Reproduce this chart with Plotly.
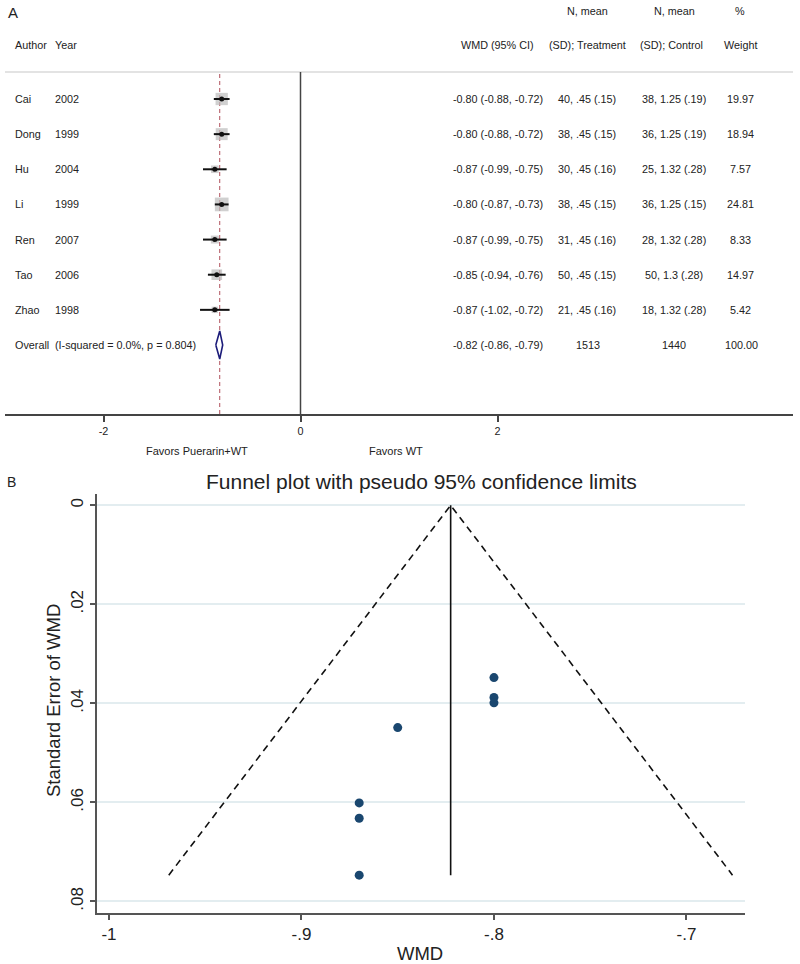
import plotly.graph_objects as go

# ---------------- data ----------------
authors = ["Cai", "Dong", "Hu", "Li", "Ren", "Tao", "Zhao"]
years = ["2002", "1999", "2004", "1999", "2007", "2006", "1998"]
wmd = [-0.80, -0.80, -0.87, -0.80, -0.87, -0.85, -0.87]
ci_low = [-0.88, -0.88, -0.99, -0.87, -0.99, -0.94, -1.02]
ci_high = [-0.72, -0.72, -0.75, -0.73, -0.75, -0.76, -0.72]
n_treat = [40, 38, 30, 38, 31, 50, 21]
mean_treat = [0.45, 0.45, 0.45, 0.45, 0.45, 0.45, 0.45]
sd_treat = [0.15, 0.15, 0.16, 0.15, 0.16, 0.15, 0.16]
n_ctrl = [38, 36, 25, 36, 28, 50, 18]
mean_ctrl = [1.25, 1.25, 1.32, 1.25, 1.32, 1.3, 1.32]
sd_ctrl = [0.19, 0.19, 0.28, 0.15, 0.28, 0.28, 0.28]
weights = [19.97, 18.94, 7.57, 24.81, 8.33, 14.97, 5.42]

overall_wmd = -0.82
overall_low = -0.86
overall_high = -0.79
overall_n_treat = 1513
overall_n_ctrl = 1440
overall_weight = 100.00
i_squared = 0.0
p_het = 0.804

forest_ticks = [-2, 0, 2]

# funnel plot
funnel_wmd = [-0.80, -0.80, -0.87, -0.80, -0.87, -0.85, -0.87]
funnel_se = [0.0388, 0.0399, 0.0632, 0.0348, 0.0601, 0.0449, 0.0747]
pooled = -0.8225
funnel_xticks = [-1, -0.9, -0.8, -0.7]
funnel_xticktext = ["-1", "-.9", "-.8", "-.7"]
funnel_yticks = [0, 0.02, 0.04, 0.06, 0.08]
funnel_yticktext = ["0", ".02", ".04", ".06", ".08"]

# ---------------- helpers ----------------
W, H = 800, 964
FONT = "Arial, Liberation Sans, sans-serif"
TXT = "#222222"
FS = 10.8


def px(xp):
    return xp / W


def py(yp):
    return 1 - yp / H


def sfmt(v):
    s = "%g" % v
    if s.startswith("0."):
        s = s[1:]
    return s


rows = list(range(1, len(authors) + 1))
overall_row = len(authors) + 1

fig = go.Figure()

# ---------------- forest plot ----------------
cx, cy = [], []
for lo, hi, r in zip(ci_low, ci_high, rows):
    cx += [lo, hi, None]
    cy += [r, r, None]

sizes = [2.75 * (w ** 0.5) for w in weights]
fig.add_trace(go.Scatter(x=wmd, y=rows, mode="markers", xaxis="x", yaxis="y",
                         marker=dict(symbol="square", size=sizes, color="#bcbcbc",
                                     line=dict(width=0)),
                         showlegend=False, hoverinfo="skip"))
fig.add_trace(go.Scatter(x=cx, y=cy, mode="lines", xaxis="x", yaxis="y",
                         line=dict(color="#111111", width=2),
                         showlegend=False, hoverinfo="skip"))
fig.add_trace(go.Scatter(x=wmd, y=rows, mode="markers", xaxis="x", yaxis="y",
                         marker=dict(symbol="circle", size=5, color="#111111"),
                         showlegend=False, hoverinfo="skip"))
hh = 0.4
fig.add_trace(go.Scatter(
    x=[overall_low, overall_wmd, overall_high, overall_wmd, overall_low],
    y=[overall_row, overall_row - hh, overall_row, overall_row + hh, overall_row],
    mode="lines", fill="toself", fillcolor="white", xaxis="x", yaxis="y",
    line=dict(color="#1c1c7a", width=1.6),
    showlegend=False, hoverinfo="skip"))

shapes = []
shapes.append(dict(type="line", xref="paper", yref="paper", x0=px(5), x1=px(793),
                   y0=py(72), y1=py(72), line=dict(color="#c8c8c8", width=1.2)))
shapes.append(dict(type="line", xref="x", yref="y domain", x0=0, x1=0, y0=0, y1=1,
                   line=dict(color="#444444", width=1.5)))
shapes.append(dict(type="line", xref="x", yref="y domain", x0=overall_wmd, x1=overall_wmd,
                   y0=0, y1=1, line=dict(color="#b0505c", width=1, dash="4px,3px"),
                   layer="below"))

ann = []


def add_text(text, x, y, xref="paper", yref="paper", xanchor="center", size=FS,
             color=TXT, **kw):
    ann.append(dict(text=text, x=x, y=y, xref=xref, yref=yref, xanchor=xanchor,
                    yanchor="middle", showarrow=False,
                    font=dict(family=FONT, size=size, color=color), **kw))


add_text("A", px(6), py(13), xanchor="left", size=15)
add_text("B", px(5), py(482), xanchor="left", size=14)

add_text("Author", px(13), py(45), xanchor="left")
add_text("Year", px(53), py(45), xanchor="left")
add_text("N, mean", px(587), py(11))
add_text("N, mean", px(674), py(11))
add_text("%", px(740), py(11))
add_text("WMD (95% CI)", px(497), py(45))
add_text("(SD); Treatment", px(587), py(45))
add_text("(SD); Control", px(671), py(45))
add_text("Weight", px(740), py(45))

for i, r in enumerate(rows):
    add_text(authors[i], px(13), r, yref="y", xanchor="left")
    add_text(years[i], px(53), r, yref="y", xanchor="left")
    add_text("%.2f (%.2f, %.2f)" % (wmd[i], ci_low[i], ci_high[i]), px(498), r, yref="y")
    add_text("%d, %s (%s)" % (n_treat[i], sfmt(mean_treat[i]), sfmt(sd_treat[i])),
             px(587), r, yref="y")
    add_text("%d, %s (%s)" % (n_ctrl[i], sfmt(mean_ctrl[i]), sfmt(sd_ctrl[i])),
             px(674), r, yref="y")
    add_text("%.2f" % weights[i], px(740), r, yref="y")

add_text("Overall", px(13), overall_row, yref="y", xanchor="left")
add_text("(I-squared = %.1f%%, p = %.3f)" % (i_squared, p_het), px(53), overall_row,
         yref="y", xanchor="left")
add_text("%.2f (%.2f, %.2f)" % (overall_wmd, overall_low, overall_high), px(498),
         overall_row, yref="y")
add_text("%d" % overall_n_treat, px(588), overall_row, yref="y")
add_text("%d" % overall_n_ctrl, px(674), overall_row, yref="y")
add_text("%.2f" % overall_weight, px(741), overall_row, yref="y")

add_text("Favors Puerarin+WT", px(197), py(451), size=11)
add_text("Favors WT", px(396), py(451), size=11)

# ---------------- funnel plot ----------------
se_max = max(funnel_se)
fig.add_trace(go.Scatter(x=[pooled - 1.96 * se_max, pooled, pooled + 1.96 * se_max],
                         y=[se_max, 0, se_max], mode="lines", xaxis="x2", yaxis="y2",
                         line=dict(color="#111111", width=1.6, dash="7px,5px"),
                         showlegend=False, hoverinfo="skip"))
fig.add_trace(go.Scatter(x=[pooled, pooled], y=[0, se_max], mode="lines",
                         xaxis="x2", yaxis="y2", line=dict(color="#111111", width=1.6),
                         showlegend=False, hoverinfo="skip"))
fig.add_trace(go.Scatter(x=funnel_wmd, y=funnel_se, mode="markers", xaxis="x2", yaxis="y2",
                         marker=dict(symbol="circle", size=9, color="#1a476f"),
                         showlegend=False, hoverinfo="skip"))

add_text("Funnel plot with pseudo 95% confidence limits", px(421), py(481), size=21)
add_text("Standard Error of WMD", px(53), py(701), size=18.5, textangle=-90)
add_text("WMD", px(420), py(953), size=18.5)

fig.update_layout(
    width=W, height=H,
    margin=dict(l=0, r=0, t=0, b=0),
    paper_bgcolor="white", plot_bgcolor="white",
    font=dict(family=FONT, color=TXT),
    showlegend=False,
    shapes=shapes,
    annotations=ann,
    xaxis=dict(domain=[px(5), px(793)], range=[-3, 5], anchor="y",
               tickvals=forest_ticks, ticktext=[str(t) for t in forest_ticks],
               ticks="outside", ticklen=6, tickwidth=1.5, tickcolor="#444444",
               showline=True, linecolor="#444444", linewidth=1.5,
               showgrid=False, zeroline=False,
               tickfont=dict(family=FONT, size=FS, color=TXT)),
    yaxis=dict(domain=[py(414), py(72)], range=[9.9636, 0.2316], anchor="x",
               visible=False, showgrid=False, zeroline=False),
    xaxis2=dict(domain=[px(97), px(745)], range=[-1.0062, -0.6696], anchor="y2",
                tickvals=funnel_xticks, ticktext=funnel_xticktext,
                ticks="outside", ticklen=5, tickwidth=1.5, tickcolor="#555555",
                showline=True, linecolor="#555555", linewidth=1.5,
                showgrid=False, zeroline=False,
                tickfont=dict(family=FONT, size=17, color=TXT)),
    yaxis2=dict(domain=[py(913.3), py(494)], range=[0.0824, -0.00228], anchor="x2",
                tickvals=funnel_yticks, ticktext=funnel_yticktext, tickangle=-90,
                ticks="outside", ticklen=5, tickwidth=1.5, tickcolor="#555555",
                showline=True, linecolor="#555555", linewidth=1.5,
                showgrid=True, gridcolor="#e3edf0", gridwidth=1.5, zeroline=False,
                tickfont=dict(family=FONT, size=17, color=TXT)),
)

fig.write_html("out.html",
               config={"displayModeBar": False},
               post_script="document.body.style.margin='0';document.body.style.overflow='hidden';")
